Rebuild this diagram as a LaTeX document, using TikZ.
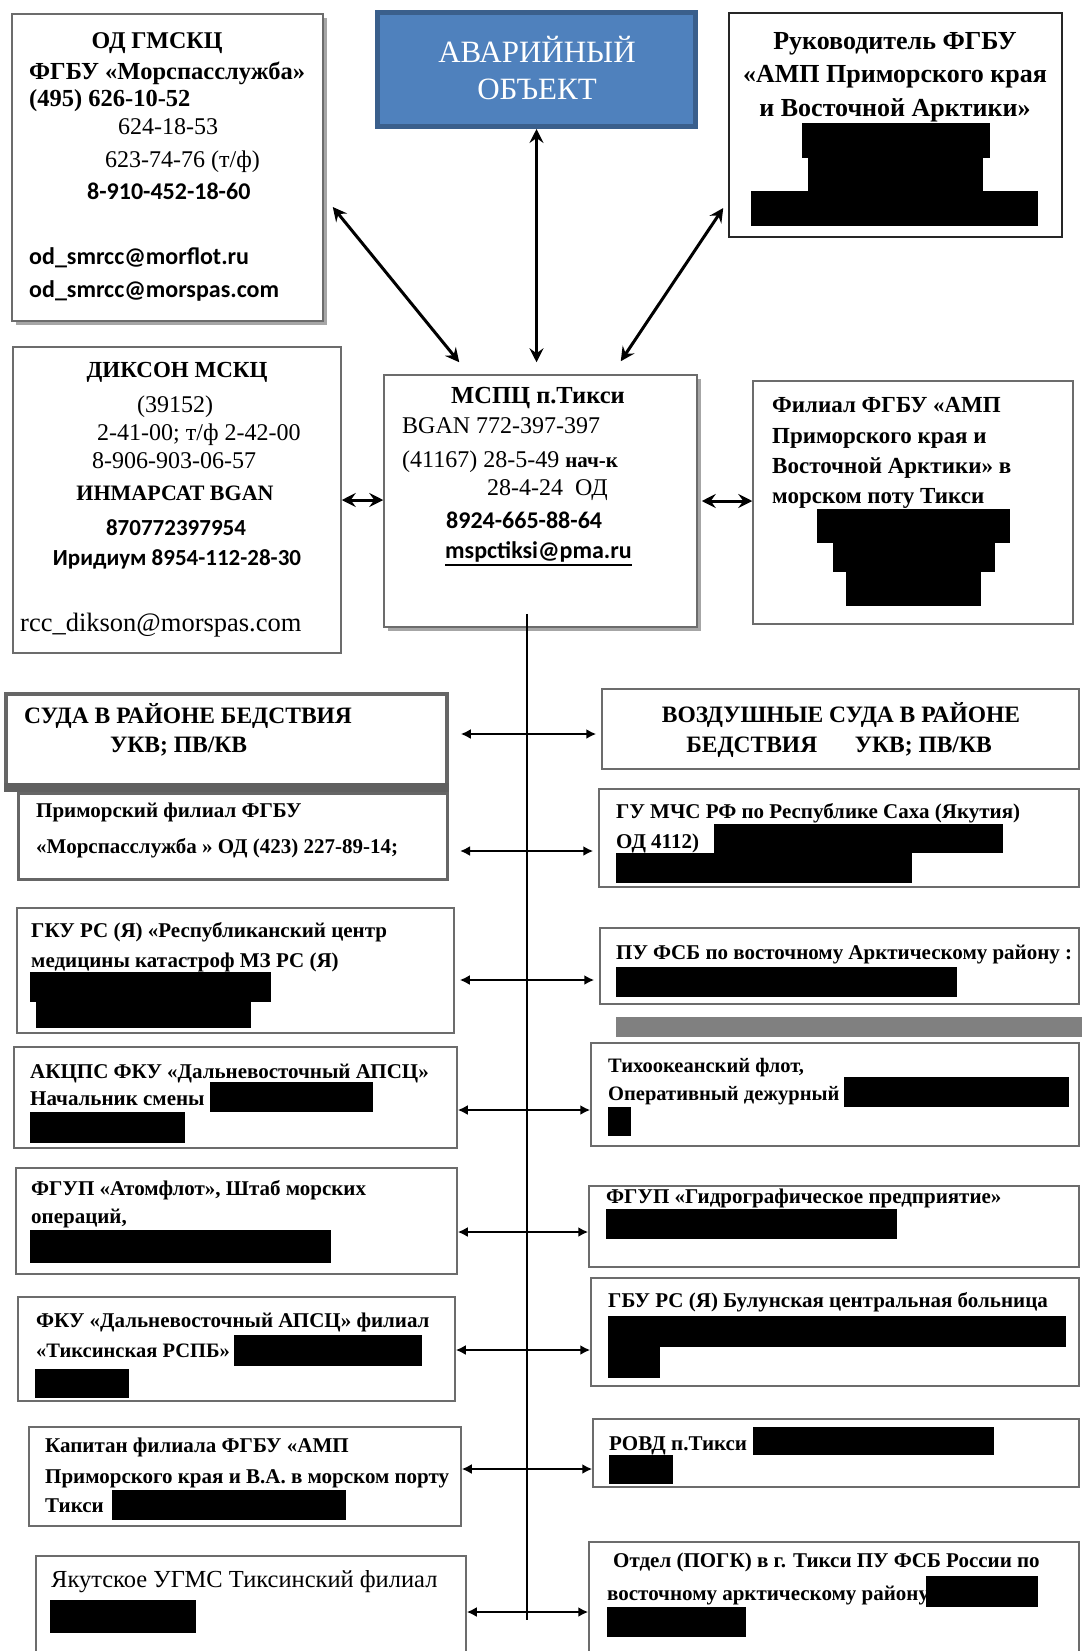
\documentclass[tikz,border=0pt]{standalone}
\usepackage{fontspec}
\setmainfont{Liberation Serif}
\newfontfamily\calfont{Carlito}
\usetikzlibrary{arrows.meta,calc,shadows}
\definecolor{avrfill}{HTML}{4F81BD}
\definecolor{avrline}{HTML}{3A5F8C}
\newcommand\fsz[1]{\fontsize{#1}{#1}\selectfont}
\tikzset{
  box/.style={draw=gray!85!black, line width=1.5pt, fill=white, inner sep=0pt},
  shd/.style={drop shadow={shadow xshift=4pt, shadow yshift=-4pt, fill=gray!70, opacity=1}},
  txt/.style={inner sep=0pt, anchor=base west, font=\fsz{21}\bfseries},
  ctr/.style={inner sep=0pt, anchor=base, font=\fsz{22}},
  big/.style={line width=3pt, >={Stealth[length=14pt,width=14pt,inset=5pt]}, <->},
  lnk/.style={line width=2.5pt, >={Latex[length=10pt,width=10pt]}, <->},
}
\begin{document}
\begin{tikzpicture}[x=1pt, y=-1pt]
\fill[white] (0,0) rectangle (1082,1651);
\useasboundingbox (0,0) rectangle (1082,1651);

\node (odg) at (167.5,167.5) [box, shd, minimum width=311pt, minimum height=307pt] {};
\node (avr) at (536.5,69.5) [box, draw=avrline, fill=avrfill, line width=5pt, minimum width=318pt, minimum height=114pt] {};
\node (ruk) at (895.5,125) [box, draw=black!85, minimum width=333pt, minimum height=224pt] {};
\node (dik) at (177,500) [box, minimum width=328pt, minimum height=306pt] {};
\node (msp) at (540.5,501) [box, shd, minimum width=313pt, minimum height=252pt] {};
\node (fil) at (913,502.5) [box, minimum width=320pt, minimum height=243pt] {};

\node (odg1) at (157,49) [ctr, font=\fsz{24}\bfseries] {ОД ГМСКЦ};
\node (odg2) at (29,80) [txt, font=\fsz{24.5}\bfseries] {ФГБУ «Морспасслужба»};
\node (odg3) at (29,107) [txt, font=\fsz{24.5}\bfseries] {(495) 626-10-52};
\node (odg4) at (118,135) [txt, font=\fsz{24}] {624-18-53};
\node (odg5) at (105,167) [txt, font=\fsz{24}] {623-74-76 (т/ф)};
\node (odg6) at (87,199) [txt, font=\fsz{24}\calfont\bfseries] {8-910-452-18-60};
\node (odg7) at (29,264) [txt, font=\fsz{24}\calfont\bfseries] {od\_smrcc@morflot.ru};
\node (odg8) at (29,297) [txt, font=\fsz{24}\calfont\bfseries] {od\_smrcc@morspas.com};

\node (avr1) at (537,63) [ctr, white, font=\fsz{31}] {АВАРИЙНЫЙ};
\node (avr2) at (537,100) [ctr, white, font=\fsz{31}] {ОБЪЕКТ};

\node (ruk1) at (895,50) [ctr, font=\fsz{26}\bfseries] {Руководитель ФГБУ};
\node (ruk2) at (895,83) [ctr, font=\fsz{26}\bfseries] {«АМП Приморского края};
\node (ruk3) at (895,117) [ctr, font=\fsz{26}\bfseries] {и Восточной Арктики»};
\fill[black] (802,123) rectangle (990,158);
\fill[black] (808,158) rectangle (983,191);
\fill[black] (751,191) rectangle (1038,226);

\node (dik1) at (177,377) [ctr, font=\fsz{23}\bfseries] {ДИКСОН МСКЦ};
\node (dik2) at (175,412) [ctr, font=\fsz{24}] {(39152)};
\node (dik3) at (97,440) [txt, font=\fsz{24}] {2-41-00; т/ф 2-42-00};
\node (dik4) at (92,468) [txt, font=\fsz{24}] {8-906-903-06-57};
\node (dik5) at (175,500) [ctr, font=\fsz{22}\bfseries] {ИНМАРСАТ BGAN};
\node (dik6) at (176,535) [ctr, font=\fsz{23}\calfont\bfseries] {870772397954};
\node (dik7) at (177,565) [ctr, font=\fsz{23}\calfont\bfseries] {Иридиум 8954-112-28-30};
\node (dik8) at (20,631) [txt, font=\fsz{26.5}] {rcc\_dikson@morspas.com};

\node (msp1) at (538,403) [ctr, font=\fsz{24.5}\bfseries] {МСПЦ п.Тикси};
\node (msp2) at (402,433) [txt, font=\fsz{24}] {BGAN 772-397-397};
\node (msp3) at (402,467) [txt, font=\fsz{24}] {(41167) 28-5-49 {\bfseries\fsz{21}нач-к}};
\node (msp4) at (487,495) [txt, font=\fsz{24}] {28-4-24\ \ ОД};
\node (msp5) at (446,528) [txt, font=\fsz{24}\calfont\bfseries] {8924-665-88-64};
\node (msp6) at (445,558) [txt, font=\fsz{24}\calfont\bfseries] {mspctiksi@pma.ru};
\draw[line width=2.2pt] ([yshift=-7pt]msp6.base west) -- ([yshift=-7pt]msp6.base east);

\node (fil1) at (772,412) [txt, font=\fsz{23}\bfseries] {Филиал ФГБУ «АМП};
\node (fil2) at (772,443) [txt, font=\fsz{23}\bfseries] {Приморского края и};
\node (fil3) at (772,473) [txt, font=\fsz{23}\bfseries] {Восточной Арктики» в};
\node (fil4) at (772,503) [txt, font=\fsz{23}\bfseries] {морском поту Тикси};
\fill[black] (817,509) rectangle (1010,543);
\fill[black] (833,543) rectangle (995,572);
\fill[black] (846,572) rectangle (981,606);

\draw[big] (avr.south) -- ($(avr.south |- msp.north)+(0,-12)$);
\draw[big] ($(odg.east)+(9,39.5)$) -- ($(msp.north west)+(76,-12)$);
\draw[big] ($(ruk.west)+(-5,83)$) -- ($(msp.north east)+(-77,-13)$);
\draw[big] (dik.east) -- (dik.east -| msp.west);
\draw[big, shorten <=4pt] (msp.east) -- (msp.east -| fil.west);

% left column
\node (sud) at (226.5,741) [box, line width=3.5pt, draw=gray!80!black, minimum width=441pt, minimum height=94pt] {};
\fill[gray!75!black] (4,783) rectangle (449,792);
\node (prm) at (233,836.5) [box, line width=3pt, draw=gray!80!black, minimum width=429pt, minimum height=86pt] {};
\node (gku) at (235.5,970.5) [box, minimum width=437pt, minimum height=125pt] {};
\node (akc) at (235.5,1097.5) [box, minimum width=443pt, minimum height=101pt] {};
\node (atf) at (236.5,1221) [box, minimum width=441pt, minimum height=106pt] {};
\node (fku) at (236.5,1349) [box, minimum width=437pt, minimum height=104pt] {};
\node (kap) at (245,1476.5) [box, minimum width=432pt, minimum height=99pt] {};
\node (yak) at (251,1610) [box, minimum width=430pt, minimum height=108pt] {};

% right column
\node (vzd) at (840.5,729) [box, minimum width=477pt, minimum height=80pt] {};
\node (mch) at (839,838) [box, minimum width=480pt, minimum height=98pt] {};
\node (puf) at (839.5,966) [box, minimum width=479pt, minimum height=76pt] {};
\fill[gray] (616,1017) rectangle (1082,1037);
\node (tih) at (835,1094.5) [box, minimum width=488pt, minimum height=103pt] {};
\node (gid) at (834,1226.5) [box, minimum width=490pt, minimum height=81pt] {};
\node (gbu) at (835,1332) [box, minimum width=488pt, minimum height=108pt] {};
\node (rov) at (836,1453) [box, minimum width=486pt, minimum height=68pt] {};
\node (otd) at (834,1603) [box, minimum width=490pt, minimum height=122pt] {};

\node (sud1) at (24,723) [txt, font=\fsz{23.5}\bfseries] {СУДА В РАЙОНЕ БЕДСТВИЯ};
\node (sud2) at (110,752) [txt, font=\fsz{23.5}\bfseries] {УКВ; ПВ/КВ};
\node (prm1) at (36,817) [txt] {Приморский филиал ФГБУ};
\node (prm2) at (36,853) [txt] {«Морспасслужба » ОД (423) 227-89-14;};
\node (gku1) at (31,937) [txt] {ГКУ РС (Я) «Республиканский центр};
\node (gku2) at (31,967) [txt] {медицины катастроф МЗ РС (Я)};
\node (akc1) at (30,1078) [txt] {АКЦПС ФКУ «Дальневосточный АПСЦ»};
\node (akc2) at (30,1105) [txt] {Начальник смены :};
\node (atf1) at (31,1195) [txt] {ФГУП «Атомфлот», Штаб морских};
\node (atf2) at (31,1223) [txt] {операций,};
\node (fku1) at (36,1327) [txt] {ФКУ «Дальневосточный АПСЦ» филиал};
\node (fku2) at (36,1357) [txt, font=\fsz{20.5}\bfseries] {«Тиксинская РСПБ»};
\node (kap1) at (45,1452) [txt] {Капитан филиала ФГБУ «АМП};
\node (kap2) at (45,1483) [txt] {Приморского края и В.А. в морском порту};
\node (kap3) at (45,1512) [txt] {Тикси};
\node (yak1) at (51,1587) [txt, font=\fsz{24.5}] {Якутское УГМС Тиксинский филиал};
\fill[black] (30,972) rectangle (271,1002);
\fill[black] (36,1002) rectangle (251,1028);
\fill[black] (210,1082) rectangle (373,1112);
\fill[black] (30,1112) rectangle (185,1143);
\fill[black] (30,1230) rectangle (331,1263);
\fill[black] (234,1335) rectangle (422,1366);
\fill[black] (35,1369) rectangle (129,1398);
\fill[black] (112,1490) rectangle (346,1520);
\fill[black] (50,1600) rectangle (196,1633);

\node (vzd1) at (841,722) [ctr, font=\fsz{23.5}\bfseries] {ВОЗДУШНЫЕ СУДА В РАЙОНЕ};
\node (vzd2) at (839,752) [ctr, font=\fsz{23.5}\bfseries] {БЕДСТВИЯ\hspace{1.6em}УКВ; ПВ/КВ};
\node (mch1) at (616,818) [txt] {ГУ МЧС РФ по Республике Саха (Якутия)};
\node (mch2) at (616,848) [txt] {ОД 4112)};
\node (puf1) at (616,959) [txt] {ПУ ФСБ по восточному Арктическому району :};
\node (tih1) at (608,1072) [txt, font=\fsz{20.5}\bfseries] {Тихоокеанский флот,};
\node (tih2) at (608,1100) [txt, font=\fsz{20.5}\bfseries] {Оперативный дежурный};
\node (gid1) at (606,1203) [txt] {ФГУП «Гидрографическое предприятие»};
\node (gbu1) at (608,1307) [txt] {ГБУ РС (Я) Булунская центральная больница};
\node (rov1) at (609,1450) [txt] {РОВД п.Тикси};
\node (otd1) at (613,1567) [txt] {Отдел (ПОГК) в г. Тикси ПУ ФСБ России по};
\node (otd2) at (607,1600) [txt] {восточному арктическому району};
\fill[black] (714,824) rectangle (1003,853);
\fill[black] (616,853) rectangle (912,883);
\fill[black] (616,967) rectangle (957,997);
\fill[black] (844,1077) rectangle (1069,1107);
\fill[black] (608,1107) rectangle (631,1136);
\fill[black] (606,1209) rectangle (897,1239);
\fill[black] (608,1316) rectangle (1066,1347);
\fill[black] (608,1347) rectangle (660,1378);
\fill[black] (753,1427) rectangle (994,1455);
\fill[black] (609,1455) rectangle (673,1484);
\fill[black] (926,1576) rectangle (1038,1607);
\fill[black] (607,1607) rectangle (746,1637);

\coordinate (top) at ($(msp.south)+(-13.5,-14)$);
\coordinate (r1) at (527,734);
\coordinate (r2) at (527,851);
\coordinate (r3) at (527,980);
\coordinate (r4) at (527,1110);
\coordinate (r5) at (527,1232);
\coordinate (r6) at (527,1350);
\coordinate (r7) at (527,1469);
\coordinate (r8) at (527,1612);
\coordinate (bot) at (527,1620);
\draw[line width=1.3pt] (top) -- (bot);

\draw[lnk, shorten <=12pt, shorten >=5pt] (sud.east |- r1) -- (vzd.west |- r1);
\draw[lnk, shorten <=11pt, shorten >=5pt] (prm.east |- r2) -- (mch.west |- r2);
\draw[lnk, shorten <=5pt, shorten >=5pt] (gku.east |- r3) -- (puf.west |- r3);
\draw[lnk] (akc.east |- r4) -- (tih.west |- r4);
\draw[lnk] (atf.east |- r5) -- (gid.west |- r5);
\draw[lnk] (fku.east |- r6) -- (gbu.west |- r6);
\draw[lnk] (kap.east |- r7) -- (rov.west |- r7);
\draw[lnk] (yak.east |- r8) -- (otd.west |- r8);
\end{tikzpicture}
\end{document}
